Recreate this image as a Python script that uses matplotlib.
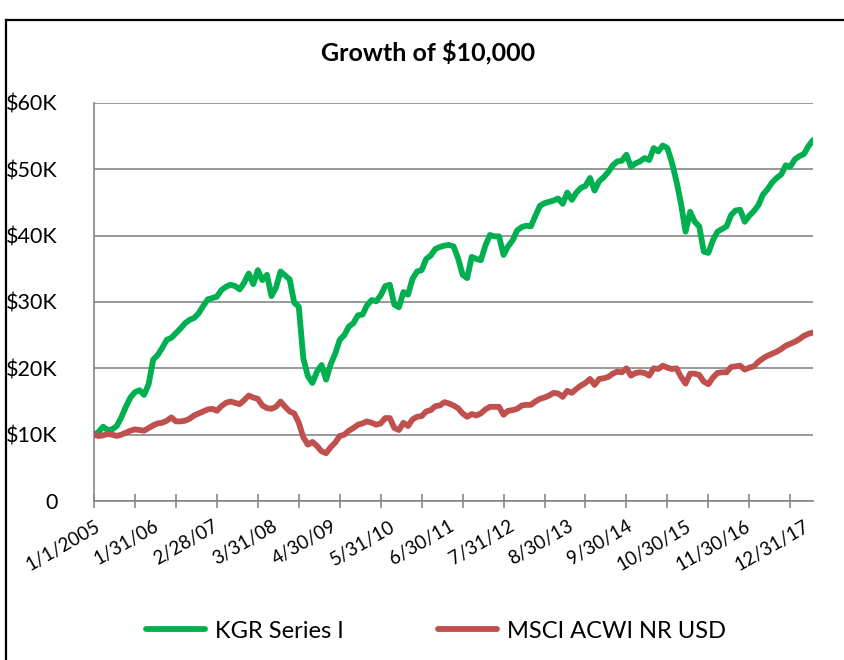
import matplotlib
matplotlib.use("Agg")
import matplotlib.pyplot as plt
from matplotlib.lines import Line2D
from matplotlib.ticker import FixedLocator, FuncFormatter

plt.rcParams['font.family'] = ['Lato', 'DejaVu Sans']

title = "Growth of $10,000"
series_names = ["KGR Series I", "MSCI ACWI NR USD"]
tick_labels = ["1/1/2005", "1/31/06", "2/28/07", "3/31/08", "4/30/09", "5/31/10",
               "6/30/11", "7/31/12", "8/30/13", "9/30/14", "10/30/15", "11/30/16", "12/31/17"]

# values in $K, monthly from 1/1/2005
kgr = [10.0, 10.4, 11.2, 10.7, 10.8, 11.3, 12.6, 14.2, 15.6, 16.4,
       16.7, 16.0, 17.6, 21.3, 22.0, 23.1, 24.3, 24.6, 25.3, 26.0,
       26.8, 27.3, 27.6, 28.3, 29.4, 30.4, 30.6, 30.8, 31.8, 32.3,
       32.6, 32.4, 31.9, 32.9, 34.3, 32.7, 34.8, 33.3, 34.1, 30.9,
       32.2, 34.6, 34.0, 33.4, 29.9, 29.3, 21.5, 18.8, 17.8, 19.5,
       20.5, 18.3, 20.6, 22.2, 24.3, 25.0, 26.3, 26.8, 28.0, 28.1,
       29.5, 30.3, 30.1, 31.0, 32.4, 32.6, 29.6, 29.2, 31.5, 31.1,
       33.5, 34.6, 34.8, 36.5, 37.0, 38.0, 38.3, 38.5, 38.6, 38.4,
       36.6, 34.1, 33.6, 36.8, 36.5, 36.3, 38.5, 40.1, 39.9, 39.9,
       37.1, 38.4, 39.3, 40.8, 41.3, 41.5, 41.4, 43.0, 44.5, 44.9,
       45.1, 45.3, 45.6, 44.8, 46.5, 45.4, 46.5, 47.2, 47.5, 48.7,
       46.8, 48.2, 48.8, 49.6, 50.6, 51.2, 51.3, 52.2, 50.4, 50.9,
       51.2, 51.7, 51.4, 53.2, 52.7, 53.6, 53.2, 51.0, 48.2, 44.8,
       40.6, 43.6, 42.1, 41.4, 37.6, 37.4, 39.3, 40.6, 41.0, 41.4,
       43.1, 43.8, 43.9, 42.1, 43.0, 43.7, 44.6, 46.2, 47.0, 48.0,
       48.7, 49.2, 50.6, 50.4, 51.5, 52.0, 52.3, 53.5, 54.4]

msci = [10.0, 9.8, 9.9, 10.1, 10.0, 9.8, 10.0, 10.3, 10.6, 10.8,
        10.7, 10.6, 11.0, 11.4, 11.7, 11.8, 12.1, 12.6, 12.0, 12.0,
        12.1, 12.4, 12.9, 13.2, 13.5, 13.8, 13.9, 13.6, 14.3, 14.8,
        15.0, 14.8, 14.6, 15.2, 15.9, 15.6, 15.4, 14.4, 14.0, 13.9,
        14.2, 15.0, 14.2, 13.5, 13.2, 11.8, 9.6, 8.5, 8.9, 8.3,
        7.5, 7.2, 8.1, 8.8, 9.8, 10.0, 10.6, 11.0, 11.5, 11.7,
        12.0, 11.8, 11.5, 11.7, 12.5, 12.5, 11.0, 10.7, 11.8, 11.3,
        12.3, 12.7, 12.8, 13.5, 13.7, 14.3, 14.4, 14.9, 14.7, 14.4,
        14.0, 13.2, 12.7, 13.1, 12.9, 13.2, 13.8, 14.2, 14.2, 14.2,
        13.0, 13.6, 13.7, 13.9, 14.4, 14.5, 14.5, 15.0, 15.4, 15.6,
        15.9, 16.3, 16.2, 15.7, 16.6, 16.3, 16.9, 17.4, 17.8, 18.4,
        17.5, 18.4, 18.5, 18.7, 19.2, 19.5, 19.4, 20.0, 18.9, 19.3,
        19.4, 19.3, 18.9, 20.0, 19.9, 20.4, 20.1, 19.9, 20.0, 18.7,
        17.7, 19.2, 19.2, 19.0, 18.0, 17.6, 18.6, 19.3, 19.4, 19.4,
        20.2, 20.3, 20.4, 19.8, 20.1, 20.3, 21.0, 21.5, 21.9, 22.2,
        22.5, 22.9, 23.4, 23.7, 24.0, 24.4, 24.9, 25.2, 25.4]

n = len(kgr)
x = list(range(n))
kgr_usd = [v * 1000 for v in kgr]
msci_usd = [v * 1000 for v in msci]

W, H = 844, 660
fig = plt.figure(figsize=(W / 100, H / 100), dpi=100)
ax = fig.add_axes([94 / W, 1 - 501 / H, (813 - 94) / W, (501 - 103) / H])

grid_c = '#878787'
ax.plot(x, kgr_usd, color='#00B050', lw=4.2, solid_joinstyle='round',
        solid_capstyle='round', label=series_names[0], zorder=3)
ax.plot(x, msci_usd, color='#C0504D', lw=4.2, solid_joinstyle='round',
        solid_capstyle='round', label=series_names[1], zorder=3)

ax.set_xlim(0, n - 1)
ax.set_ylim(0, 60000)
ax.set_yticks(range(0, 60001, 10000))
ax.yaxis.set_major_formatter(FuncFormatter(lambda v, p: "0" if v == 0 else f"${int(v/1000)}K"))
ax.grid(axis='y', color=grid_c, lw=1.2, zorder=0)
ax.set_axisbelow(True)

for s in ['top', 'right']:
    ax.spines[s].set_visible(False)
for s in ['left', 'bottom']:
    ax.spines[s].set_color(grid_c)
    ax.spines[s].set_linewidth(1.2)

ax.tick_params(axis='y', length=0, pad=26, labelsize=15.5, labelcolor='black')

# major ticks (marks only) every 9 periods, labels every 13 periods
ax.xaxis.remove_overlapping_locs = False
ax.xaxis.set_major_locator(FixedLocator(list(range(0, n, 9))))
ax.xaxis.set_major_formatter(FuncFormatter(lambda v, p: ""))
ax.xaxis.set_minor_locator(FixedLocator([13 * k for k in range(len(tick_labels))]))
ax.xaxis.set_minor_formatter(FuncFormatter(lambda v, p: tick_labels[int(round(v / 13))]))
ax.tick_params(axis='x', which='major', direction='inout', length=10, width=1.2, color=grid_c)
ax.tick_params(axis='x', which='minor', length=0, pad=12, labelsize=13.5)
for lab in ax.get_xticklabels(minor=True):
    lab.set_rotation(30)
    lab.set_ha('right')
    lab.set_va('top')
    lab.set_rotation_mode('anchor')

fig.text(428 / W, 1 - 52 / H, title, ha='center', va='center', fontsize=18, fontweight='bold')

fig.legend(loc='center', bbox_to_anchor=(436 / W, 1 - 631 / H), ncol=2, frameon=False,
           fontsize=17, handlelength=2.5, handletextpad=0.42, columnspacing=4.0)

# chart border
fig.add_artist(Line2D([6 / W, 6 / W], [0, 1 - 19.5 / H], transform=fig.transFigure, color='black', lw=1.6))
fig.add_artist(Line2D([6 / W, 1], [1 - 19.5 / H, 1 - 19.5 / H], transform=fig.transFigure, color='black', lw=1.6))

fig.savefig("out.png", dpi=100)
